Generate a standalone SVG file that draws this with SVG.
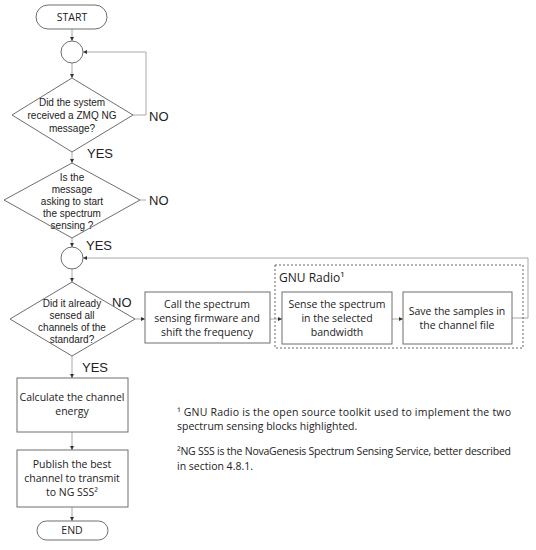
<svg xmlns="http://www.w3.org/2000/svg" width="536" height="550" viewBox="0 0 536 550">
<defs>
<marker id="ah" viewBox="0 0 6 6" refX="6" refY="3" markerWidth="4" markerHeight="4" orient="auto" markerUnits="userSpaceOnUse">
<path d="M0,0 L6,3 L0,6 z" fill="#333"/>
</marker>
</defs>
<style>
.n{fill:#fff;stroke:#6e6e6e;stroke-width:1}
.c{fill:none;stroke:#a8a8a8;stroke-width:1}
.t{font-family:"Open Sans","Liberation Sans",sans-serif;font-size:10.5px;fill:#222;text-anchor:middle}
.s{font-family:"Liberation Sans",sans-serif;font-size:10px}
.l{font-family:"Liberation Sans",sans-serif;font-size:13px;fill:#222}
.f{font-family:"Open Sans","Liberation Sans",sans-serif;font-size:10.5px;fill:#222}
.d{fill:none;stroke:#666;stroke-width:1;stroke-dasharray:2,2}
</style>
<rect width="536" height="550" fill="#fff"/>
<g id="connectors">
<line class="c" x1="72" y1="29" x2="72" y2="41" marker-end="url(#ah)"/>
<line class="c" x1="72" y1="63" x2="72" y2="78" marker-end="url(#ah)"/>
<line class="c" x1="72" y1="152" x2="72" y2="163" marker-end="url(#ah)"/>
<polyline class="c" points="133,115 146,115 146,52 83,52" marker-end="url(#ah)"/>
<line class="c" x1="140" y1="200" x2="146" y2="200"/>
<line class="c" x1="72" y1="238" x2="72" y2="247" marker-end="url(#ah)"/>
<line class="c" x1="72" y1="269" x2="72" y2="282" marker-end="url(#ah)"/>
<line class="c" x1="135" y1="319" x2="145" y2="319" marker-end="url(#ah)"/>
<line class="c" x1="270" y1="319" x2="282" y2="319" marker-end="url(#ah)"/>
<line class="c" x1="392" y1="319" x2="403" y2="319" marker-end="url(#ah)"/>
<polyline class="c" points="512,318 528,318 528,258 83,258" marker-end="url(#ah)"/>
<line class="c" x1="72" y1="356" x2="72" y2="378" marker-end="url(#ah)"/>
<line class="c" x1="72" y1="432" x2="72" y2="450" marker-end="url(#ah)"/>
<line class="c" x1="72" y1="507" x2="72" y2="521" marker-end="url(#ah)"/>
</g>
<g id="start">
<rect class="n" x="36" y="5" width="71" height="24" rx="12"/>
<text class="t" x="72" y="21">START</text>
</g>
<g id="merge1"><circle class="n" cx="72" cy="52" r="11"/></g>
<g id="q1">
<polygon class="n" points="72,78 133,115 72,152 12,115"/>
<text class="t s" x="72" y="106">Did the system</text>
<text class="t s" x="72" y="119">received a ZMQ NG</text>
<text class="t s" x="72" y="132">message?</text>
</g>
<g id="q2">
<polygon class="n" points="72,163 140,200 72,238 4,200"/>
<text class="t s" x="72" y="181">Is the</text>
<text class="t s" x="72" y="193">message</text>
<text class="t s" x="72" y="205">asking to start</text>
<text class="t s" x="72" y="217">the spectrum</text>
<text class="t s" x="72" y="229">sensing ?</text>
</g>
<g id="labels">
<text class="l" x="149" y="121">NO</text>
<text class="l" x="149" y="205">NO</text>
<text class="l" x="87" y="158">YES</text>
<text class="l" x="86" y="250">YES</text>
<text class="l" x="112" y="307">NO</text>
<text class="l" x="82" y="372">YES</text>
</g>
<g id="merge2"><circle class="n" cx="72" cy="258" r="11"/></g>
<g id="q3">
<polygon class="n" points="72,282 135,319 72,356 10,319"/>
<text class="t s" x="72" y="307">Did it already</text>
<text class="t s" x="72" y="319">sensed all</text>
<text class="t s" x="72" y="331">channels of the</text>
<text class="t s" x="72" y="343">standard?</text>
</g>
<g id="call">
<rect class="n" x="145" y="292" width="125" height="51"/>
<text class="t" x="207" y="308">Call the spectrum</text>
<text class="t" x="207" y="322">sensing firmware and</text>
<text class="t" x="207" y="336">shift the frequency</text>
</g>
<g id="gnu">
<rect class="d" x="275" y="265" width="248" height="83"/>
<text class="f" x="279" y="282" style="font-size:12px">GNU Radio¹</text>
</g>
<g id="sense">
<rect class="n" x="282" y="292" width="110" height="52"/>
<text class="t" x="337" y="308">Sense the spectrum</text>
<text class="t" x="337" y="322">in the selected</text>
<text class="t" x="337" y="336">bandwidth</text>
</g>
<g id="save">
<rect class="n" x="403" y="292" width="109" height="52"/>
<text class="t" x="457" y="315">Save the samples in</text>
<text class="t" x="457" y="329">the channel file</text>
</g>
<g id="calc">
<rect class="n" x="17" y="378" width="111" height="54"/>
<text class="t" x="72" y="401">Calculate the channel</text>
<text class="t" x="72" y="415">energy</text>
</g>
<g id="publish">
<rect class="n" x="17" y="450" width="111" height="57"/>
<text class="t" x="72" y="468">Publish the best</text>
<text class="t" x="72" y="482">channel to transmit</text>
<text class="t" x="72" y="496">to NG SSS²</text>
</g>
<g id="end">
<rect class="n" x="37" y="521" width="71" height="19" rx="9.5"/>
<text class="t" x="72" y="534">END</text>
</g>
<g id="footnotes">
<text class="f" x="177" y="416" textLength="334" lengthAdjust="spacing">¹ GNU Radio is the open source toolkit used to implement the two</text>
<text class="f" x="177" y="430">spectrum sensing blocks highlighted.</text>
<text class="f" x="177" y="455" textLength="334" lengthAdjust="spacing">²NG SSS is the NovaGenesis Spectrum Sensing Service, better described</text>
<text class="f" x="177" y="470">in section 4.8.1.</text>
</g>
</svg>
